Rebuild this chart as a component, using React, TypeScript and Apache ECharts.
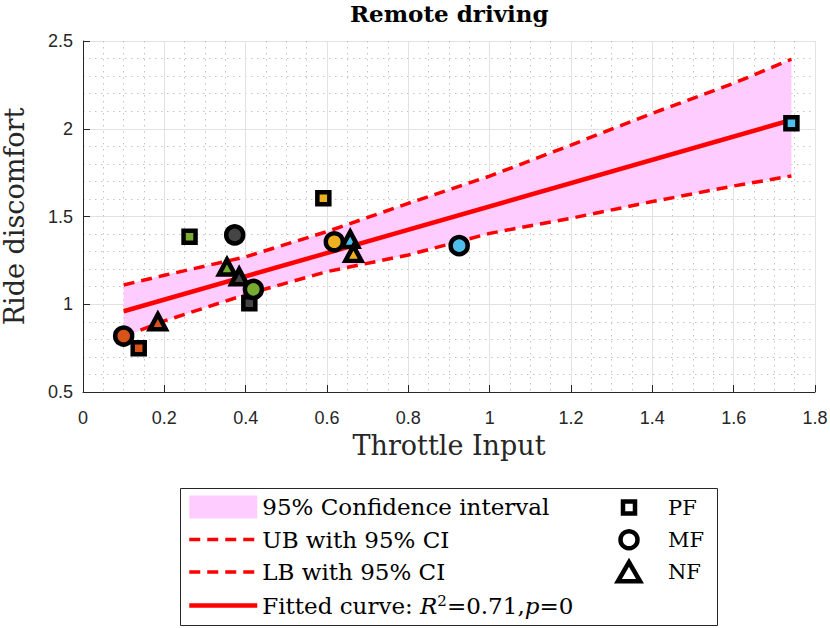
import React, { useEffect, useRef } from 'react';
import * as echarts from 'echarts';

// Participant colours (one per participant, same across conditions)
const participantColors = ['#D95319', '#77AC30', '#454545', '#EDB120', '#4DBEEE'];

// PF (squares)
const pfX = [0.137, 0.262, 0.409, 0.591, 1.742];
const pfY = [0.749, 1.385, 1.005, 1.604, 2.031];
const pfColorIdx = [0, 1, 2, 3, 4];
// MF (circles)
const mfX = [0.100, 0.419, 0.373, 0.618, 0.925];
const mfY = [0.819, 1.085, 1.395, 1.356, 1.334];
const mfColorIdx = [0, 1, 2, 3, 4];
// NF (triangles)
const nfX = [0.184, 0.354, 0.384, 0.657, 0.665];
const nfY = [0.900, 1.212, 1.157, 1.370, 1.290];
const nfColorIdx = [0, 1, 2, 4, 3];

// Confidence band
const ciX = [0.1, 0.2, 0.4, 0.6, 0.8, 1.0, 1.2, 1.4, 1.6, 1.742];
const ciUpper = [1.110, 1.165, 1.270, 1.414, 1.575, 1.730, 1.907, 2.088, 2.259, 2.396];
const ciLower = [0.815, 0.905, 1.055, 1.186, 1.281, 1.404, 1.490, 1.585, 1.674, 1.731];

// Fitted line
const fitX = [0.1, 1.742];
const fitY = [0.960, 2.050];
const fitR2 = '0.71';
const fitP = '0';

const xTicks = { min: 0, max: 1.8, interval: 0.2 };
const yTicks = { min: 0.5, max: 2.5, interval: 0.5 };

const bandName = '95% Confidence interval';
const ubName = 'UB with 95% CI';
const lbName = 'LB with 95% CI';
const fitName = 'Fitted curve';
const groupNames = ['PF', 'MF', 'NF'];

const serif = 'DejaVu Serif';
const sans = 'Liberation Sans';
const axisColor = '#262626';

function scatterData(xs: number[], ys: number[], idx: number[]) {
  return xs.map((x, i) => ({
    value: [x, ys[i]],
    itemStyle: { color: participantColors[idx[i]] },
  }));
}

const hiddenSymbol = { color: 'rgba(0,0,0,0)', borderWidth: 0, opacity: 0 };
const dashedLine = { color: '#FF0000', width: 3.5, type: [11, 7] };
const solidLine = { color: '#FF0000', width: 4.5, type: 'solid' };

export default function App() {
  const ref = useRef<HTMLDivElement>(null);

  useEffect(() => {
    if (!ref.current) return;
    const chart = echarts.init(ref.current, undefined, { renderer: 'svg' });

    const markerBorder = { borderColor: '#000', borderWidth: 4.5, borderJoin: 'miter', opacity: 1 };
    const legendMarker = { color: '#fff', borderColor: '#000', borderWidth: 4.5, opacity: 1 };
    const iconCenterX = 629;
    const iconBoxW = 68;
    const iconBoxLeft = iconCenterX - iconBoxW / 2;

    const option: any = {
      animation: false,
      backgroundColor: '#ffffff',
      title: {
        text: 'Remote driving',
        left: 350,
        top: 2,
        padding: 0,
        textStyle: { fontFamily: serif, fontWeight: 'bold', fontSize: 23, color: '#000' },
      },
      grid: { left: 83, top: 41, right: 15, bottom: 236, containLabel: false, outerBoundsMode: 'none' },
      xAxis: {
        type: 'value',
        ...xTicks,
        name: 'Throttle Input',
        nameLocation: 'middle',
        nameGap: 38,
        nameTextStyle: { fontFamily: serif, fontSize: 27, color: axisColor },
        axisLine: { show: true, onZero: false, lineStyle: { color: axisColor, width: 1 } },
        axisTick: { show: true, inside: true, length: 7, lineStyle: { color: axisColor, width: 1 } },
        axisLabel: { fontFamily: sans, fontSize: 18, color: axisColor, margin: 17 },
        splitLine: { show: true, lineStyle: { color: '#e2e2e2', width: 1 } },
        minorTick: { show: false, splitNumber: 4 },
        minorSplitLine: { show: true, lineStyle: { color: '#c4c4c4', width: 1, type: [1.5, 4.5] } },
      },
      yAxis: {
        type: 'value',
        ...yTicks,
        name: 'Ride discomfort',
        nameLocation: 'middle',
        nameGap: 55,
        nameTextStyle: { fontFamily: serif, fontSize: 27, color: axisColor },
        axisLine: { show: true, onZero: false, lineStyle: { color: axisColor, width: 1 } },
        axisTick: { show: true, inside: true, length: 7, lineStyle: { color: axisColor, width: 1 } },
        axisLabel: { fontFamily: sans, fontSize: 18, color: axisColor, margin: 10 },
        splitLine: { show: true, lineStyle: { color: '#e2e2e2', width: 1 } },
        minorTick: { show: false, splitNumber: 5 },
        minorSplitLine: { show: true, lineStyle: { color: '#c4c4c4', width: 1, type: [1.5, 4.5] } },
      },
      graphic: [
        {
          type: 'rect',
          z: 0,
          shape: { x: 180.5, y: 488.5, width: 537, height: 137 },
          style: { fill: '#ffffff', stroke: axisColor, lineWidth: 1 },
        },
      ],
      legend: [
        {
          orient: 'vertical',
          left: 187,
          top: 495.5,
          padding: 0,
          itemWidth: 68,
          itemHeight: 23,
          itemGap: 9.5,
          selectedMode: false,
          symbolKeepAspect: false,
          data: [
            { name: bandName, icon: 'rect', itemStyle: { color: '#FFCCFF', borderWidth: 0 } },
            { name: ubName, itemStyle: hiddenSymbol, lineStyle: dashedLine },
            { name: lbName, itemStyle: hiddenSymbol, lineStyle: dashedLine },
            { name: fitName, itemStyle: hiddenSymbol, lineStyle: solidLine },
          ],
          formatter: (name: string) =>
            name === fitName ? `${fitName}: {i|R}{sup|2}=${fitR2},{i|p}=${fitP}` : name,
          textStyle: {
            fontFamily: serif,
            fontSize: 23,
            color: '#000',
            rich: {
              i: { fontFamily: serif, fontSize: 23, fontStyle: 'italic', color: '#000' },
              sup: { fontFamily: serif, fontSize: 15, color: '#000', verticalAlign: 'top', padding: [0, 0, 10, 0] },
            },
          },
        },
        {
          left: iconBoxLeft + (iconBoxW / 2 - 6 - 2.25),
          top: 497,
          padding: 0,
          itemWidth: iconBoxW,
          itemHeight: 12,
          selectedMode: false,
          data: [{ name: groupNames[0], icon: 'path://M0,0H1V1H0Z', itemStyle: legendMarker }],
          textStyle: { fontFamily: serif, fontSize: 21, color: '#000' },
        },
        {
          left: iconBoxLeft + (iconBoxW / 2 - 8.5 - 2.25),
          top: 529,
          padding: 0,
          itemWidth: iconBoxW,
          itemHeight: 17,
          selectedMode: false,
          data: [{ name: groupNames[1], icon: 'circle', itemStyle: legendMarker }],
          textStyle: { fontFamily: serif, fontSize: 21, color: '#000' },
        },
        {
          left: iconBoxLeft + (iconBoxW / 2 - 11.1 - 2.25),
          top: 560,
          padding: 0,
          itemWidth: iconBoxW,
          itemHeight: 19,
          selectedMode: false,
          data: [{ name: groupNames[2], icon: 'path://M7,0L14,12H0Z', itemStyle: legendMarker }],
          textStyle: { fontFamily: serif, fontSize: 21, color: '#000' },
        },
      ],
      series: [
        {
          name: bandName,
          type: 'custom',
          silent: true,
          z: 1,
          itemStyle: { color: '#FFCCFF' },
          data: [[ciX[0], ciLower[0]]],
          renderItem: (_params: any, api: any) => {
            const upper = ciX.map((x, i) => api.coord([x, ciUpper[i]]));
            const lower = ciX.map((x, i) => api.coord([x, ciLower[i]])).reverse();
            return {
              type: 'polygon',
              shape: { points: upper.concat(lower) },
              style: { fill: '#FFCCFF', stroke: 'none' },
            };
          },
        },
        {
          name: ubName,
          type: 'line',
          z: 2,
          symbol: 'none',
          silent: true,
          data: ciX.map((x, i) => [x, ciUpper[i]]),
          itemStyle: { color: '#FF0000' },
          lineStyle: dashedLine,
        },
        {
          name: lbName,
          type: 'line',
          z: 2,
          symbol: 'none',
          silent: true,
          data: ciX.map((x, i) => [x, ciLower[i]]),
          itemStyle: { color: '#FF0000' },
          lineStyle: dashedLine,
        },
        {
          name: fitName,
          type: 'line',
          z: 2,
          symbol: 'none',
          silent: true,
          data: fitX.map((x, i) => [x, fitY[i]]),
          itemStyle: { color: '#FF0000' },
          lineStyle: solidLine,
        },
        {
          name: groupNames[2],
          type: 'scatter',
          z: 3,
          symbol: 'triangle',
          symbolSize: [16, 15],
          itemStyle: markerBorder,
          data: scatterData(nfX, nfY, nfColorIdx),
        },
        {
          name: groupNames[0],
          type: 'scatter',
          z: 3,
          symbol: 'rect',
          symbolSize: 12,
          itemStyle: markerBorder,
          data: scatterData(pfX, pfY, pfColorIdx),
        },
        {
          name: groupNames[1],
          type: 'scatter',
          z: 3,
          symbol: 'circle',
          symbolSize: 17,
          itemStyle: markerBorder,
          data: scatterData(mfX, mfY, mfColorIdx),
        },
      ],
    };

    chart.setOption(option);
    return () => chart.dispose();
  }, []);

  return (
    <div
      ref={ref}
      style={{ position: 'fixed', left: 0, top: 0, width: 830, height: 628, background: '#fff' }}
    />
  );
}
